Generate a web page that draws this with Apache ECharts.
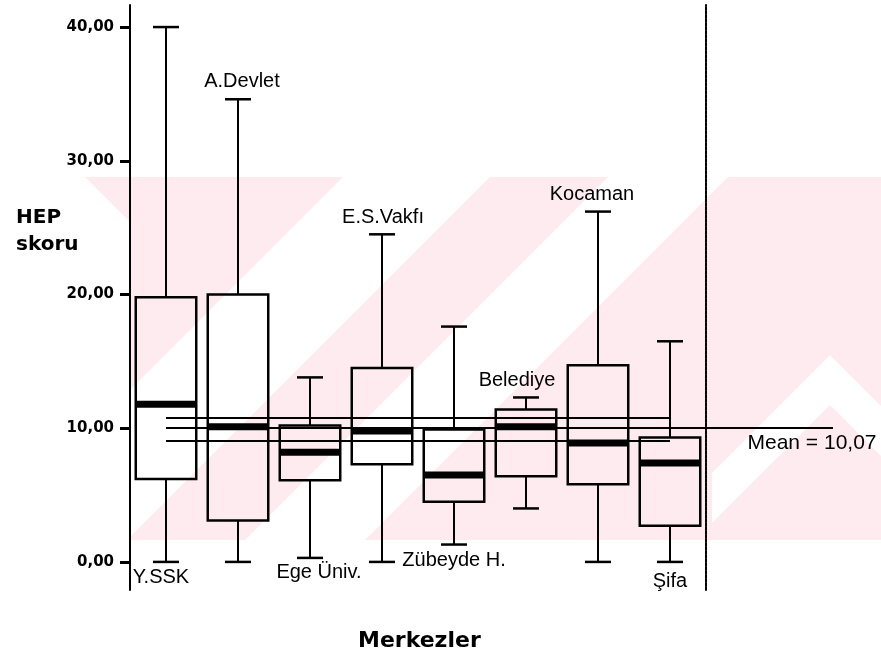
<!DOCTYPE html>
<html>
<head>
<meta charset="utf-8">
<script src="https://cdn.jsdelivr.net/npm/echarts@6/dist/echarts.min.js"></script>
<style>html,body{margin:0;padding:0;background:#fff;}#c{width:881px;height:653px;}</style>
</head>
<body>
<div id="c"></div>
<script>
// ---- data ----
const categories = ['Y.SSK', 'A.Devlet', 'Ege Üniv.', 'E.S.Vakfı', 'Zübeyde H.', 'Belediye', 'Kocaman', 'Şifa'];
const whiskerLow  = [0.0, 0.0, 0.3, 0.0, 1.3, 4.0, 0.0, 0.0];
const quartile1   = [6.2, 3.1, 6.1, 7.3, 4.5, 6.4, 5.8, 2.7];
const medians     = [11.8, 10.1, 8.2, 9.8, 6.5, 10.1, 8.9, 7.4];
const quartile3   = [19.8, 20.0, 10.2, 14.5, 9.9, 11.4, 14.7, 9.3];
const whiskerHigh = [40.0, 34.6, 13.8, 24.5, 17.6, 12.3, 26.2, 16.5];
const meanValue = 10.07;
const bandUpper = 10.77;
const bandLower = 9.05;
const yTicks = [0, 10, 20, 30, 40];

// ---- label placement (style only) ----
const labelAt = ['low', 'high', 'low', 'high', 'low', 'high', 'high', 'low'];
const labelShift = [[-5, 16], [4, -18], [9, 15], [1, -17], [0, 16], [-9, -17], [-6, -17], [0, 20]];

const fmt = v => v.toFixed(2).replace('.', ',');

const boxData = categories.map((c, i) => [i, whiskerLow[i], quartile1[i], medians[i], quartile3[i], whiskerHigh[i]]);
const labelData = categories.map((c, i) => ({
  name: c,
  value: [i, labelAt[i] === 'high' ? whiskerHigh[i] : whiskerLow[i]],
  label: { offset: labelShift[i] }
}));

function renderBox(params, api) {
  const x = api.value(0);
  const lo = api.coord([x, api.value(1)]);
  const q1 = api.coord([x, api.value(2)]);
  const md = api.coord([x, api.value(3)]);
  const q3 = api.coord([x, api.value(4)]);
  const hi = api.coord([x, api.value(5)]);
  const bw = api.size([1, 0])[0] * 0.84;
  const cap = 26;
  const cx = lo[0];
  const ls = { stroke: '#000', lineWidth: 2, fill: null };
  return {
    type: 'group',
    children: [
      { type: 'line', shape: { x1: cx, y1: hi[1], x2: cx, y2: q3[1] }, style: ls },
      { type: 'line', shape: { x1: cx, y1: q1[1], x2: cx, y2: lo[1] }, style: ls },
      { type: 'line', shape: { x1: cx - cap / 2, y1: hi[1], x2: cx + cap / 2, y2: hi[1] }, style: { stroke: '#000', lineWidth: 2.5 } },
      { type: 'line', shape: { x1: cx - cap / 2, y1: lo[1], x2: cx + cap / 2, y2: lo[1] }, style: { stroke: '#000', lineWidth: 2.5 } },
      { type: 'rect', shape: { x: cx - bw / 2, y: q3[1], width: bw, height: q1[1] - q3[1] }, style: { stroke: '#000', lineWidth: 2.5, fill: null } },
      { type: 'line', shape: { x1: cx - bw / 2, y1: md[1], x2: cx + bw / 2, y2: md[1] }, style: { stroke: '#000', lineWidth: 7 } }
    ]
  };
}

// faint background watermark (decoration)
const pink = '#fdebef';
function band(a, b, y0, y1) { // white diagonal "/" stripe between x+y=a and x+y=b
  return { type: 'polygon', z: -10, silent: true, shape: { points: [[a - y0, y0], [b - y0, y0], [b - y1, y1], [a - y1, y1]] }, style: { fill: '#fff' } };
}
const watermark = [
  { type: 'polygon', z: -20, silent: true, shape: { points: [[85, 177], [881, 177], [881, 540], [130, 540], [130, 222]] }, style: { fill: pink } },
  band(520, 667, 177, 540),
  band(785, 905, 177, 540),
  { type: 'polygon', z: -10, silent: true, shape: { points: [[830, 355], [881, 406], [881, 456], [830, 405], [712, 523], [712, 473]] }, style: { fill: '#fff' } }
];

const chart = echarts.init(document.getElementById('c'), null, { renderer: 'canvas' });
chart.setOption({
  animation: false,
  backgroundColor: '#fff',
  graphic: watermark,
  title: [
    { text: 'HEP\nskoru', left: 11, top: 199, textStyle: { fontFamily: 'DejaVu Sans', fontWeight: 'bold', fontSize: 20, lineHeight: 27, color: '#000' } },
    { text: 'Merkezler', left: 353, top: 625, textStyle: { fontFamily: 'DejaVu Sans', fontWeight: 'bold', fontSize: 22, color: '#000' } }
  ],
  grid: { left: 130, right: 175, top: 5, bottom: 63, containLabel: false },
  xAxis: {
    type: 'category', data: categories, boundaryGap: true,
    axisLine: { show: false }, axisTick: { show: false }, axisLabel: { show: false }, splitLine: { show: false }
  },
  yAxis: [
    {
      type: 'value', min: -2.1, max: 41.65, position: 'left',
      axisLine: { show: true, lineStyle: { color: '#000', width: 2 } },
      axisTick: { show: true, customValues: yTicks, length: 10, inside: false, lineStyle: { color: '#000', width: 3 } },
      axisLabel: { show: true, customValues: yTicks, formatter: v => fmt(v), margin: 16, fontFamily: 'DejaVu Sans', fontWeight: 'bold', fontSize: 15, color: '#000' },
      splitLine: { show: false }
    },
    {
      type: 'value', min: -2.1, max: 41.65, position: 'right',
      axisLine: { show: true, lineStyle: { color: '#000', width: 2, type: [3, 1] } },
      axisTick: { show: false }, axisLabel: { show: false }, splitLine: { show: false }
    }
  ],
  series: [
    {
      type: 'custom', renderItem: renderBox, data: boxData, z: 3,
      markLine: {
        silent: true, symbol: 'none', animation: false,
        lineStyle: { color: '#000', width: 2, type: 'solid' },
        label: { show: false },
        data: [
          [{ coord: [0, bandUpper] }, { coord: [7, bandUpper] }],
          [{ coord: [0, bandLower] }, { coord: [7, bandLower] }],
          [{ coord: [0, meanValue] }, { coord: [7, meanValue], x: 833 }]
        ]
      },
      markPoint: {
        silent: true, symbol: 'circle', symbolSize: 0, animation: false,
        label: { show: true, formatter: 'Mean = ' + fmt(meanValue), fontFamily: 'Liberation Sans', fontSize: 21, color: '#000', offset: [0, 16] },
        data: [{ coord: [7, meanValue], x: 812 }]
      }
    },
    {
      type: 'scatter', data: labelData, symbolSize: 0, z: 4, silent: true,
      itemStyle: { opacity: 1 },
      label: {
        show: true, position: 'inside', formatter: p => p.name,
        fontFamily: 'Liberation Sans', fontSize: 20, color: '#000', opacity: 1
      }
    }
  ]
});
</script>
</body>
</html>
